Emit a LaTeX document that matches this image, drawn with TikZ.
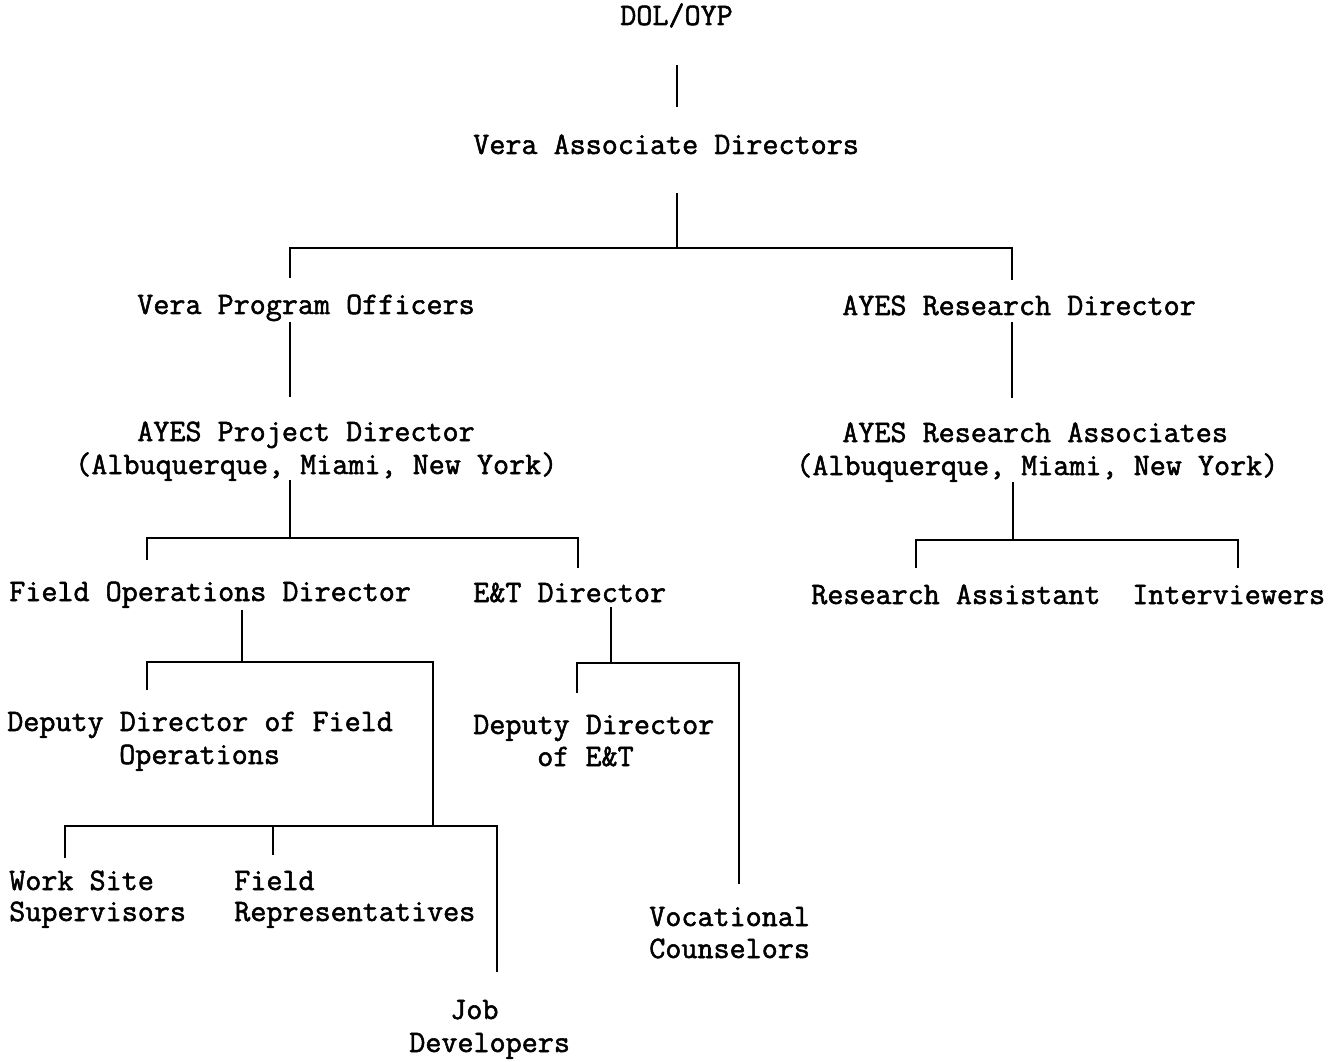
\documentclass[tikz,border=0pt]{standalone}
\usepackage{fontspec}
\newfontfamily\tw{Latin Modern Mono}[FakeBold=1.7]
\begin{document}
\begin{tikzpicture}[x=0.75pt,y=-0.75pt,
  txt/.style={font=\tw\fontsize{23.4pt}{26pt}\selectfont, inner sep=0pt, anchor=base west},
  conn/.style={line width=1.4pt, black}]
\useasboundingbox (0,0) rectangle (1337,1062);
% labels
\node[txt] (dol)   at (620,25)   {DOL/OYP};
\node[txt] (vad)   at (473,154)  {Vera Associate Directors};
\node[txt] (vpo)   at (137,314)  {Vera Program Officers};
\node[txt] (ard)   at (842,315)  {AYES Research Director};
\node[txt] (pd)    at (137,441)  {AYES Project Director};
\node[txt] (pdl)   at (75,474)   {(Albuquerque, Miami, New York)};
\node[txt] (ra)    at (842,442)  {AYES Research Associates};
\node[txt] (ral)   at (796,475)  {(Albuquerque, Miami, New York)};
\node[txt] (fod)   at (9,601)    {Field Operations Director};
\node[txt] (etd)   at (473,602)  {E\&T Director};
\node[txt] (rasst) at (811,604)  {Research Assistant};
\node[txt] (intv)  at (1132,604) {Interviewers};
\node[txt] (ddf)   at (7,731)    {Deputy Director of Field};
\node[txt] (ddfb)  at (119,764)  {Operations};
\node[txt] (dde)   at (473,734)  {Deputy Director};
\node[txt] (ddeb)  at (537,766)  {of E\&T};
\node[txt] (wss)   at (9,890)    {Work Site};
\node[txt] (wssb)  at (9,921)    {Supervisors};
\node[txt] (fr)    at (234,890)  {Field};
\node[txt] (frb)   at (234,921)  {Representatives};
\node[txt] (vc)    at (649,926)  {Vocational};
\node[txt] (vcb)   at (649,958)  {Counselors};
\node[txt] (jd)    at (450,1019) {Job};
\node[txt] (jdb)   at (409,1052) {Developers};
% connector points
\coordinate (a1) at (677,65);  \coordinate (a2) at (677,107);
\coordinate (b1) at (677,193); \coordinate (b2) at (677,248);
\coordinate (bl) at (290,278); \coordinate (br) at (1012,280);
\coordinate (c1) at (290,322); \coordinate (c2) at (290,397);
\coordinate (d1) at (1012,322); \coordinate (d2) at (1012,398);
\coordinate (e1) at (290,480); \coordinate (e2) at (290,538);
\coordinate (el) at (147,560); \coordinate (er) at (578,568);
\coordinate (f1) at (1013,482); \coordinate (f2) at (1013,540);
\coordinate (fl) at (916,568); \coordinate (fr2) at (1238,568);
\coordinate (g1) at (242,610); \coordinate (g2) at (242,662);
\coordinate (gl) at (147,690); \coordinate (gr) at (433,826);
\coordinate (h1) at (611,607); \coordinate (h2) at (611,663);
\coordinate (hl) at (577,693); \coordinate (hr) at (739,884);
\coordinate (il) at (65,858);  \coordinate (ir) at (497,972);
\coordinate (im1) at (273,826); \coordinate (im2) at (273,855);
% connectors
\draw[conn] (a1) -- (a2);
\draw[conn] (b1) -- (b2);
\draw[conn] (bl) |- (b2) -| (br);
\draw[conn] (c1) -- (c2);
\draw[conn] (d1) -- (d2);
\draw[conn] (e1) -- (e2);
\draw[conn] (el) |- (e2) -| (er);
\draw[conn] (f1) -- (f2);
\draw[conn] (fl) |- (f2) -| (fr2);
\draw[conn] (g1) -- (g2);
\draw[conn] (gl) |- (g2) -| (gr);
\draw[conn] (h1) -- (h2);
\draw[conn] (hl) |- (h2) -| (hr);
\draw[conn] (il) |- (gr) -| (ir);
\draw[conn] (im1) -- (im2);
\end{tikzpicture}
\end{document}
